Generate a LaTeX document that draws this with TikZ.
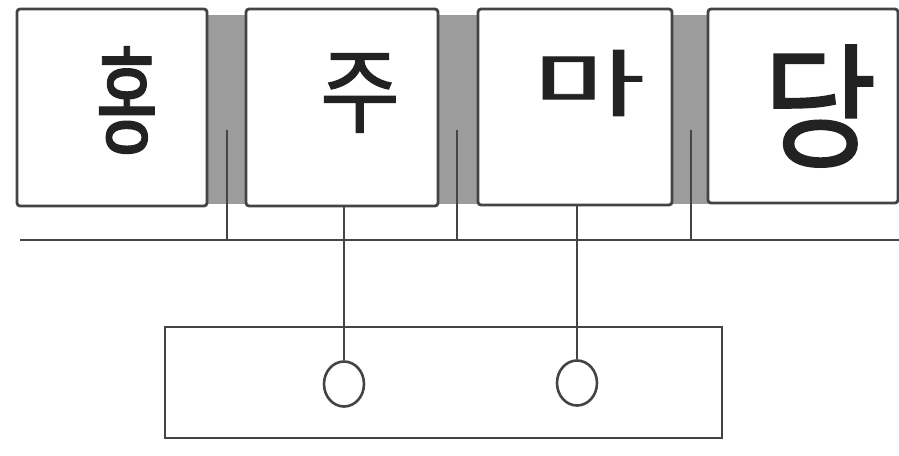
\documentclass[tikz,border=0pt]{standalone}
\usepackage{fontspec}
\usepackage{graphicx}
\newfontfamily\kr{Noto Sans CJK KR}[FakeBold=1.2]
\usetikzlibrary{shapes.geometric}
\definecolor{edge}{HTML}{444444}
\definecolor{gapgray}{HTML}{9C9C9C}
\definecolor{ink}{HTML}{222222}
\tikzset{
  keybox/.style={draw=edge, line width=2.8pt, fill=white, rounded corners=3pt, inner sep=0pt},
  gapfill/.style={fill=gapgray, draw=none},
  wire/.style={draw=edge, line width=2.6pt},
  glyph/.style={inner sep=0pt, text=ink, font=\kr},
  hole/.style={ellipse, draw=edge, line width=2.6pt, fill=white, minimum width=40pt, minimum height=45pt, inner sep=0pt},
  base/.style={draw=edge, line width=2.8pt, inner sep=0pt}
}
\begin{document}
\begin{tikzpicture}[x=1pt,y=-1pt]
\useasboundingbox (0,0) rectangle (899,455);
\fill[white] (0,0) rectangle (899,455);
% gray gaps
\path[gapfill] (205,15) rectangle (248,204);
\path[gapfill] (436,15) rectangle (480,204);
\path[gapfill] (670,15) rectangle (710,204);
% key boxes
\node[keybox, minimum width=190pt, minimum height=197pt] (b1) at (112,107.5) {};
\node[keybox, minimum width=192pt, minimum height=197pt] (b2) at (342,107.5) {};
\node[keybox, minimum width=194pt, minimum height=196pt] (b3) at (575,107) {};
\node[keybox, minimum width=190pt, minimum height=194pt] (b4) at (803,106) {};
% glyphs
\node[glyph] (g1) at (127,100) {\resizebox{62pt}{98pt}{홍}};
\node[glyph] (g2) at (360,93) {\resizebox{80pt}{72pt}{주}};
\node[glyph] (g3) at (589,83) {\resizebox{112pt}{60pt}{마}};
\node[glyph] (g4) at (820,106) {\resizebox{114pt}{112pt}{당}};
% bus line
\coordinate (busL) at (20,240);
\coordinate (busR) at (899,240);
\draw[wire] (busL) -- (busR);
% gap pins
\coordinate (p1) at (227,130);
\coordinate (p2) at (457,130);
\coordinate (p3) at (691,130);
\draw[wire] (p1) -- (p1 |- busL);
\draw[wire] (p2) -- (p2 |- busL);
\draw[wire] (p3) -- (p3 |- busL);
% lower box
\node[base, minimum width=557pt, minimum height=111pt] (lb) at (443.5,382.5) {};
\node[hole] (c1) at (344,384) {};
\node[hole] (c2) at (577,383) {};
\draw[wire] (c1.north) -- (c1.north |- b2.south);
\draw[wire] (c2.north) -- (c2.north |- b3.south);
\end{tikzpicture}
\end{document}
